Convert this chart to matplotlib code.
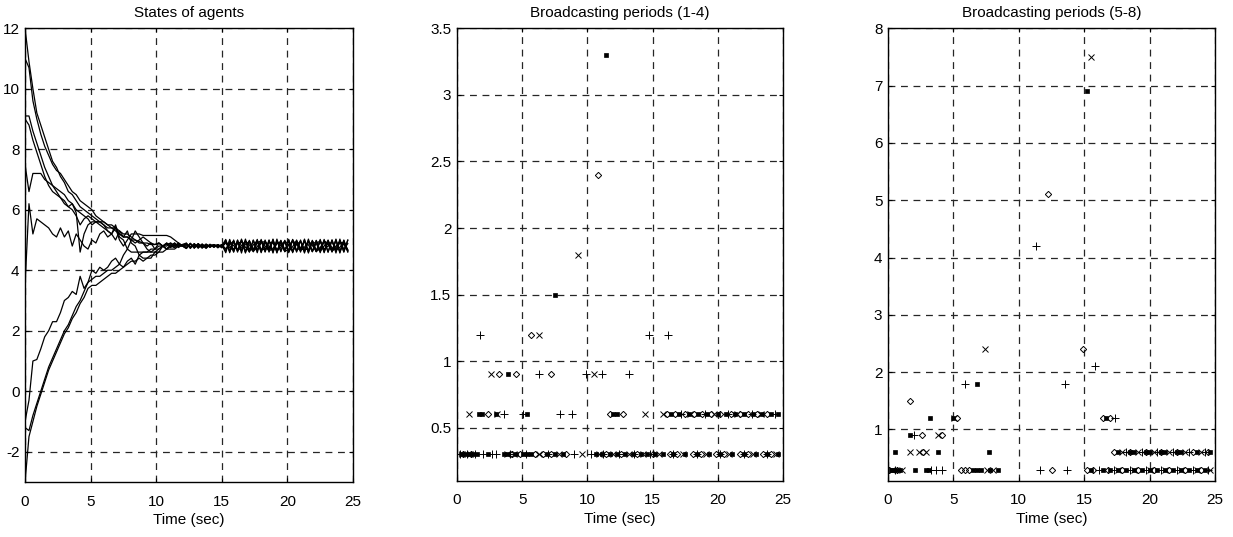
import numpy as np
import matplotlib
matplotlib.use('Agg')
import matplotlib.pyplot as plt
import matplotlib.ticker as mticker

plt.rcParams['font.family'] = ['Liberation Sans', 'DejaVu Sans']
plt.rcParams['font.size'] = 11

# --- States of agents: sampled every 0.3 s from 0 to 24.6 s ---
t_state = np.round(np.arange(83) * 0.3, 1)

# first 41 samples (0 .. 12 s)
x1_head = [12.0, 10.9, 10.0, 9.2, 8.8, 8.4, 8.0, 7.6, 7.4, 7.1, 6.9, 6.6, 6.5, 6.3, 6.1, 6.0, 5.9, 5.8, 5.7, 5.6,
           5.5, 5.4, 5.4, 5.3, 5.2, 5.1, 5.1, 5.0, 5.0, 4.95, 4.9, 4.9, 4.85, 4.85, 4.9, 4.8, 4.9, 4.8, 4.9, 4.8, 4.85]
x2_head = [11.0, 10.7, 9.6, 9.0, 8.5, 8.1, 7.8, 7.5, 7.3, 7.2, 7.0, 6.8, 6.6, 6.5, 6.3, 6.2, 6.1, 6.0, 5.8, 5.7,
           5.6, 5.5, 5.4, 5.4, 5.2, 5.1, 5.1, 5.0, 4.9, 5.0, 5.1, 5.0, 4.9, 4.85, 4.9, 4.8, 4.85, 4.9, 4.8, 4.9, 4.8]
x3_head = [9.1, 9.1, 8.6, 8.2, 7.8, 7.4, 7.1, 6.8, 6.6, 6.4, 6.3, 6.1, 6.2, 5.9, 4.6, 5.2, 5.5, 5.6, 5.6, 5.6,
           5.6, 5.5, 5.5, 5.4, 5.3, 5.2, 5.2, 5.1, 5.0, 4.9, 4.9, 4.8, 4.9, 4.7, 4.9, 4.8, 4.9, 4.75, 4.85, 4.8, 4.85]
x4_head = [9.0, 8.8, 8.3, 7.9, 7.5, 7.1, 6.8, 6.6, 6.5, 6.4, 6.2, 6.1, 6.0, 5.8, 5.5, 5.7, 5.8, 5.7, 5.6, 5.5,
           5.4, 5.3, 5.2, 5.5, 5.1, 5.0, 4.7, 4.6, 4.6, 4.6, 4.6, 4.6, 4.7, 4.7, 4.8, 4.8, 4.8, 4.9, 4.8, 4.85, 4.8]
x5_head = [7.5, 6.6, 7.2, 7.2, 7.2, 7.0, 6.9, 6.8, 6.7, 6.6, 6.5, 6.3, 6.2, 6.0, 5.9, 5.8, 5.7, 5.5, 5.6, 5.6,
           5.5, 5.3, 5.2, 5.4, 5.0, 4.8, 5.0, 5.2, 5.2, 5.2, 5.15, 5.15, 5.15, 5.15, 5.15, 5.15, 5.15, 5.1, 5.0, 4.9, 4.8]
x6_head = [3.5, 6.2, 5.2, 5.7, 5.6, 5.5, 5.4, 5.2, 5.1, 5.4, 5.1, 5.3, 4.8, 5.2, 5.0, 4.8, 4.7, 5.0, 4.9, 5.2,
           5.3, 5.1, 5.2, 5.0, 5.3, 5.1, 5.3, 4.9, 4.8, 4.5, 4.4, 4.4, 4.4, 4.6, 4.6, 4.8, 4.7, 4.8, 4.9, 4.75, 4.85]
x7_head = [-1.0, -0.3, 1.0, 1.05, 1.4, 1.8, 2.0, 2.3, 2.3, 2.6, 3.0, 3.1, 3.3, 3.2, 3.8, 3.4, 3.6, 4.0, 3.9, 4.1,
           4.0, 4.1, 4.3, 4.4, 4.2, 4.5, 4.7, 5.0, 5.3, 5.1, 4.9, 4.7, 4.6, 4.6, 4.7, 4.8, 4.7, 4.85, 4.75, 4.9, 4.8]
x8_head = [-3.0, -1.5, -1.0, -0.5, -0.1, 0.3, 0.7, 1.0, 1.3, 1.6, 1.9, 2.1, 2.4, 2.6, 2.9, 3.1, 3.4, 3.5, 3.5, 3.6,
           3.7, 3.8, 3.9, 3.9, 4.0, 4.1, 4.2, 4.3, 4.3, 4.4, 4.3, 4.4, 4.5, 4.5, 4.6, 4.6, 4.7, 4.7, 4.7, 4.8, 4.8]
x9_head = [-1.2, -1.3, -0.8, -0.4, 0.0, 0.4, 0.8, 1.1, 1.4, 1.7, 2.0, 2.2, 2.5, 2.8, 3.0, 3.3, 3.6, 3.7, 3.8, 3.8,
           3.9, 4.0, 4.0, 4.1, 4.2, 4.1, 4.3, 4.4, 4.2, 4.5, 4.6, 4.6, 4.6, 4.7, 4.7, 4.8, 4.7, 4.8, 4.75, 4.85, 4.8]

# remaining 42 samples (12.3 .. 24.6 s), chattering around the consensus value
x1_tail = [4.90, 4.74, 4.88, 4.73, 4.87, 4.75, 4.86, 4.76, 4.85, 4.77,
           4.99, 4.62, 4.97, 4.64, 5.00, 4.60, 4.96, 4.65, 4.99, 4.61, 4.95, 4.66, 5.01, 4.60, 4.97, 4.63,
           4.99, 4.61, 4.96, 4.64, 5.00, 4.60, 4.97, 4.62, 4.98, 4.61, 4.96, 4.65, 5.00, 4.60, 4.98, 4.62]
x2_tail = [4.72, 4.89, 4.74, 4.88, 4.75, 4.86, 4.77, 4.85, 4.78, 4.84,
           4.63, 4.98, 4.61, 4.99, 4.64, 4.96, 4.60, 5.00, 4.65, 4.97, 4.62, 4.99, 4.60, 4.98, 4.64, 4.95,
           4.61, 5.01, 4.63, 4.97, 4.60, 4.99, 4.62, 4.98, 4.65, 4.96, 4.60, 5.00, 4.63, 4.97, 4.61, 4.99]
x3_tail = [4.86, 4.76, 4.85, 4.80, 4.84, 4.72, 4.85, 4.79, 4.84, 4.74,
           4.94, 4.80, 4.70, 4.92, 4.66, 4.86, 4.95, 4.72, 4.68, 4.90, 4.96, 4.78, 4.64, 4.88, 4.95, 4.70,
           4.82, 4.97, 4.66, 4.74, 4.93, 4.84, 4.62, 4.90, 4.96, 4.70, 4.80, 4.95, 4.66, 4.76, 4.94, 4.68]
x4_tail = [4.76, 4.86, 4.79, 4.85, 4.73, 4.84, 4.80, 4.85, 4.74, 4.84,
           4.70, 4.86, 4.96, 4.68, 4.82, 4.97, 4.72, 4.64, 4.90, 4.98, 4.70, 4.76, 4.96, 4.66, 4.84, 4.95,
           4.62, 4.78, 4.98, 4.72, 4.66, 4.92, 4.88, 4.64, 4.74, 4.97, 4.86, 4.62, 4.80, 4.96, 4.70, 4.88]
x5_tail = [4.81, 4.79, 4.81, 4.79, 4.80, 4.80, 4.81, 4.79, 4.80, 4.80,
           5.02, 4.58, 5.00, 4.60, 5.03, 4.57, 4.99, 4.61, 5.02, 4.58, 5.00, 4.60, 5.03, 4.57, 4.99, 4.61,
           5.02, 4.58, 5.00, 4.60, 5.03, 4.57, 4.99, 4.61, 5.02, 4.58, 5.00, 4.60, 5.03, 4.57, 5.00, 4.60]
x6_tail = [4.74, 4.88, 4.73, 4.87, 4.75, 4.86, 4.76, 4.85, 4.77, 4.84,
           4.58, 5.02, 4.60, 5.00, 4.57, 5.03, 4.61, 4.99, 4.58, 5.02, 4.60, 5.00, 4.57, 5.03, 4.61, 4.99,
           4.58, 5.02, 4.60, 5.00, 4.57, 5.03, 4.61, 4.99, 4.58, 5.02, 4.60, 5.00, 4.57, 5.03, 4.60, 5.00]
x7_tail = [4.89, 4.72, 4.88, 4.74, 4.86, 4.75, 4.85, 4.76, 4.85, 4.77,
           4.90, 4.74, 4.66, 4.88, 4.95, 4.76, 4.62, 4.84, 4.98, 4.70, 4.68, 4.92, 4.90, 4.64, 4.76, 4.97,
           4.84, 4.62, 4.86, 4.95, 4.70, 4.68, 4.94, 4.88, 4.62, 4.80, 4.98, 4.74, 4.66, 4.92, 4.90, 4.66]
x8_tail = [4.72, 4.89, 4.74, 4.88, 4.75, 4.86, 4.76, 4.85, 4.77, 4.85,
           4.70, 4.90, 4.82, 4.66, 4.74, 4.96, 4.84, 4.62, 4.78, 4.97, 4.80, 4.64, 4.72, 4.94, 4.88, 4.62,
           4.70, 4.98, 4.86, 4.66, 4.76, 4.95, 4.82, 4.62, 4.72, 4.97, 4.86, 4.64, 4.74, 4.94, 4.84, 4.66]
x9_tail = [4.84, 4.77, 4.83, 4.78, 4.84, 4.77, 4.83, 4.78, 4.84, 4.77,
           4.97, 4.63, 4.95, 4.65, 4.98, 4.62, 4.96, 4.64, 4.97, 4.63, 4.95, 4.65, 4.98, 4.62, 4.96, 4.64,
           4.97, 4.63, 4.95, 4.65, 4.98, 4.62, 4.96, 4.64, 4.97, 4.63, 4.95, 4.65, 4.98, 4.62, 4.96, 4.64]

states = [x1_head + x1_tail, x2_head + x2_tail, x3_head + x3_tail, x4_head + x4_tail, x5_head + x5_tail,
          x6_head + x6_tail, x7_head + x7_tail, x8_head + x8_tail, x9_head + x9_tail]

# --- Broadcasting periods: {period: [broadcast times]} for each agent ---
bp1 = {0.3: [0.2, 0.8, 1.4, 2.0, 2.7, 3.0, 4.1, 5.3, 7.0, 9.0, 10.3, 11.2, 12.4, 13.6, 14.8, 16.6, 18.4, 20.2, 22.0, 23.8],
       0.6: [3.6, 5.1, 7.9, 8.8, 17.2, 19.0, 20.8, 22.6, 24.4],
       0.9: [6.3, 9.9, 11.1, 13.2],
       1.2: [1.8, 14.7, 16.2]}
bp2 = {0.3: [0.4, 1.0, 3.8, 4.4, 6.3, 7.8, 9.6, 10.9, 12.0, 13.2, 14.3, 15.5, 17.3, 19.1, 20.9, 22.7, 24.5],
       0.6: [0.9, 3.1, 14.4, 15.8, 17.9, 19.7, 21.5, 23.3],
       0.9: [2.6, 10.5],
       1.2: [6.3],
       1.8: [9.3]}
bp3 = {0.3: [0.5, 1.1, 4.2, 4.8, 6.0, 6.6, 7.2, 8.4, 11.4, 12.6, 13.8, 15.0, 16.3, 16.9, 18.1, 18.7, 19.9, 20.5,
             21.7, 22.3, 23.5, 24.1],
       0.6: [2.4, 11.7, 12.7, 16.1, 16.7, 17.5, 18.2, 18.8, 19.5, 20.2, 21.0, 21.7, 22.3, 23.0, 23.8],
       0.9: [3.2, 4.5, 7.2],
       1.2: [5.7],
       2.4: [10.8]}
bp4 = {0.3: [0.3, 0.6, 0.9, 1.2, 1.5, 2.4, 3.6, 3.9, 4.5, 5.1, 5.4, 5.7, 6.9, 7.5, 8.1, 10.7, 11.1, 11.7, 12.3,
             12.9, 13.5, 14.1, 14.6, 15.2, 15.8, 16.6, 17.5, 18.4, 19.3, 20.2, 21.1, 22.0, 22.9, 23.8, 24.6],
       0.6: [1.7, 1.9, 3.0, 5.4, 12.0, 12.3, 16.4, 17.0, 17.8, 18.5, 19.2, 20.0, 20.6, 21.3, 22.0, 22.7, 23.4,
             24.1, 24.6],
       0.9: [3.9],
       1.5: [7.5],
       3.3: [11.4]}
bp5 = {0.3: [0.5, 3.3, 3.7, 4.1, 11.6, 13.7, 16.1, 17.3, 18.5, 19.7, 20.9, 22.1, 23.3, 24.5],
       0.6: [18.2, 19.4, 20.6, 21.8, 23.0, 24.2],
       0.9: [2.0],
       1.2: [17.35],
       1.8: [5.9, 13.5],
       2.1: [15.85],
       4.2: [11.35]}
bp6 = {0.3: [0.3, 1.1, 7.6, 8.0, 17.6, 18.8, 20.0, 21.2, 22.4, 23.6, 24.6],
       0.6: [1.7, 2.4, 2.9, 17.9, 19.1, 20.3, 21.5, 22.7, 23.9],
       0.9: [3.8],
       1.2: [5.05],
       2.4: [7.45],
       7.5: [15.55]}
bp7 = {0.3: [0.1, 0.7, 5.6, 5.9, 6.2, 12.55, 15.2, 15.7, 16.8, 17.9, 19.1, 20.3, 21.5, 22.7, 23.9],
       0.6: [2.7, 17.3, 18.5, 19.7, 20.9, 22.1, 23.3, 24.5],
       0.9: [2.6, 4.1],
       1.2: [5.3, 16.4, 17.0],
       1.5: [1.7],
       2.4: [14.9],
       5.1: [12.25]}
bp8 = {0.3: [0.2, 0.4, 0.6, 0.9, 2.05, 2.9, 3.1, 6.5, 6.8, 7.1, 7.8, 8.4, 15.5, 16.4, 17.0, 17.6, 18.2, 18.8,
             19.4, 20.0, 20.6, 21.2, 21.8, 22.4, 23.0, 23.6, 24.2],
       0.6: [0.55, 3.85, 7.75, 17.6, 18.5, 18.8, 19.7, 20.0, 20.9, 21.2, 22.1, 22.4, 23.6, 24.6],
       0.9: [1.65],
       1.2: [3.2, 5.0, 16.7],
       1.8: [6.8],
       6.9: [15.2]}

marker_styles = [dict(marker='+', ms=5.5, mew=0.7, mfc='k'),
                 dict(marker='x', ms=4.5, mew=0.7, mfc='k'),
                 dict(marker='D', ms=3.2, mew=0.7, mfc='none'),
                 dict(marker='s', ms=2.2, mew=0.5, mfc='k')]


def style_axes(ax, xmax=25):
    ax.set_xlim(0, xmax)
    ax.set_xticks([0, 5, 10, 15, 20, 25])
    ax.grid(True, color='0.15', linestyle=(0, (5.5, 4.5)), linewidth=0.9)
    ax.tick_params(direction='in', length=3, width=0.8, top=True, right=True, labelsize=11)
    ax.tick_params(axis='x', pad=9)
    ax.tick_params(axis='y', pad=4)
    for sp in ax.spines.values():
        sp.set_linewidth(1.0)
    ax.yaxis.set_major_formatter(mticker.FormatStrFormatter('%g'))
    ax.set_xlabel('Time (sec)', fontsize=11, labelpad=3)


fig = plt.figure(figsize=(12.33, 5.37), dpi=100)

# panel 1: states
ax1 = fig.add_axes([0.0203, 0.1024, 0.266, 0.845])
for x in states:
    ax1.plot(t_state, x, color='k', linewidth=0.9)
ax1.set_ylim(-3, 12)
ax1.set_yticks([-2, 0, 2, 4, 6, 8, 10, 12])
style_axes(ax1)
ax1.set_title('States of agents', fontsize=11, pad=8)


def draw_periods(ax, agents):
    for bp, st in zip(agents, marker_styles):
        for period, times in bp.items():
            ax.plot(times, [period] * len(times), linestyle='none', color='k', mec='k', **st)


# panel 2: agents 1-4
ax2 = fig.add_axes([0.3706, 0.1043, 0.2644, 0.843])
draw_periods(ax2, [bp1, bp2, bp3, bp4])
ax2.set_ylim(0.1, 3.5)
ax2.set_yticks([0.5, 1, 1.5, 2, 2.5, 3, 3.5])
style_axes(ax2)
ax2.set_title('Broadcasting periods (1-4)', fontsize=11, pad=8)

# panel 3: agents 5-8
ax3 = fig.add_axes([0.7202, 0.1043, 0.2652, 0.843])
draw_periods(ax3, [bp5, bp6, bp7, bp8])
ax3.set_ylim(0.1, 8)
ax3.set_yticks([1, 2, 3, 4, 5, 6, 7, 8])
style_axes(ax3)
ax3.set_title('Broadcasting periods (5-8)', fontsize=11, pad=8)

fig.savefig('out.png', dpi=100)
